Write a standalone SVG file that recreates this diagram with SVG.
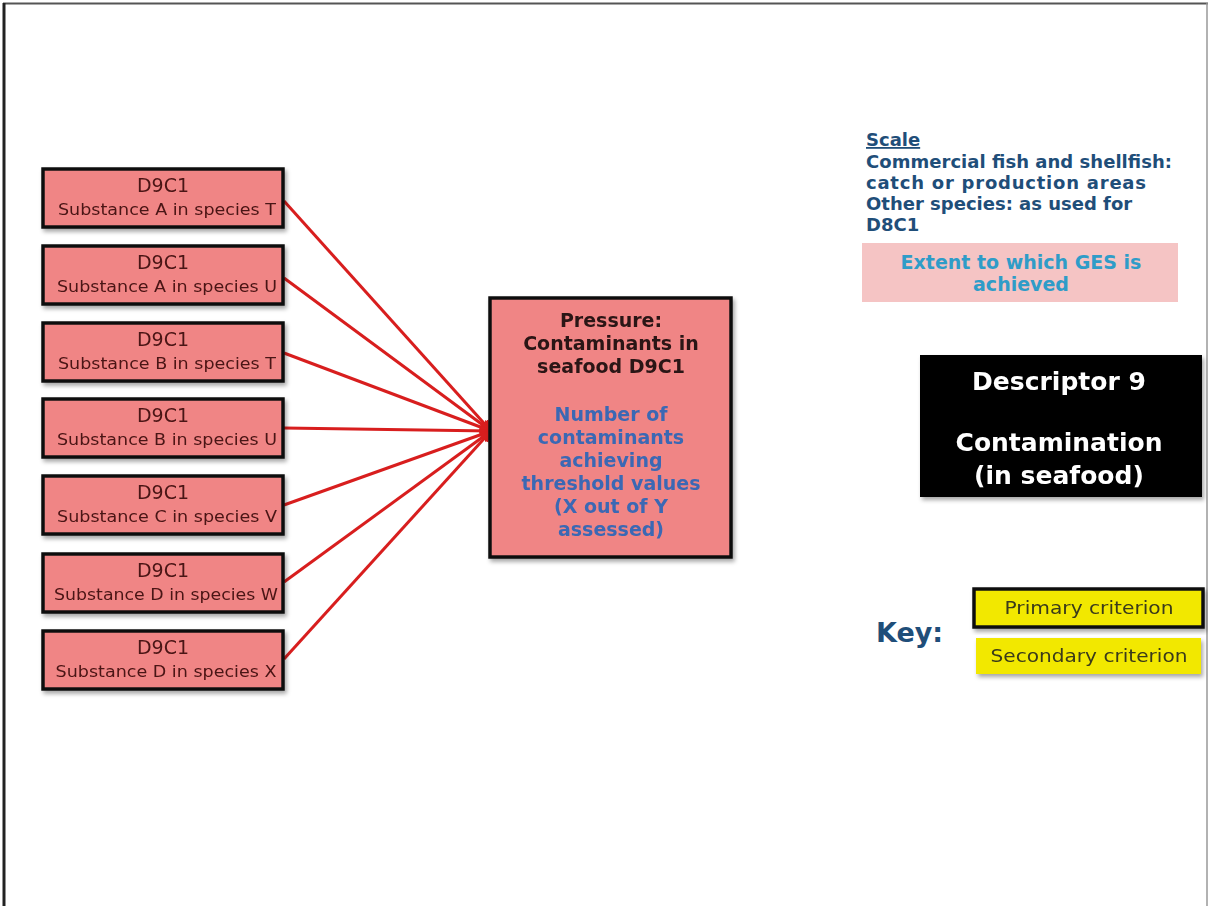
<svg xmlns="http://www.w3.org/2000/svg" width="1208" height="906" viewBox="0 0 1208 906">
  <style>
    .crit { fill: #f08585; stroke: #111; stroke-width: 3.5; }
    .t-head { font-family: "DejaVu Sans", Verdana, sans-serif; font-size: 19px; fill: #4a1414; text-anchor: middle; }
    .t-sub { font-family: "DejaVu Sans", Verdana, sans-serif; font-size: 15px; fill: #4a1414; text-anchor: middle; }
    .conn { stroke: #d81e1e; stroke-width: 3; fill: none; marker-end: url(#arrow); }
    .bold { font-family: "DejaVu Sans", Verdana, sans-serif; font-weight: bold; }
    .scale { font-size: 18px; fill: #1f4e79; }
    .keybox { fill: #f2e800; }
    .t-key { font-family: "DejaVu Sans", Verdana, sans-serif; font-size: 18px; fill: #3a3a1a; text-anchor: middle; }
  </style>
  <defs>
    <marker id="arrow" viewBox="0 0 10 10" refX="9" refY="5" markerWidth="4" markerHeight="4" orient="auto" markerUnits="strokeWidth">
      <path d="M0,0 L10,5 L0,10 z" fill="#d81e1e"/>
    </marker>
    <filter id="shadow" x="-10%" y="-10%" width="125%" height="130%">
      <feDropShadow dx="2" dy="3" stdDeviation="2" flood-color="#000" flood-opacity="0.35"/>
    </filter>
  </defs>

  <!-- page frame -->
  <rect x="0" y="0" width="1208" height="906" fill="#fff"/>
  <line x1="3" y1="3.5" x2="1208" y2="3.5" stroke="#555" stroke-width="2"/>
  <line x1="4" y1="3" x2="4" y2="906" stroke="#222" stroke-width="3"/>
  <line x1="1207" y1="3" x2="1207" y2="906" stroke="#999" stroke-width="1.5"/>

  <!-- connectors -->
  <g id="connectors">
    <line class="conn" x1="284" y1="201" x2="491" y2="431"/>
    <line class="conn" x1="284" y1="278" x2="491" y2="431"/>
    <line class="conn" x1="284" y1="353" x2="491" y2="431"/>
    <line class="conn" x1="284" y1="428" x2="491" y2="431"/>
    <line class="conn" x1="284" y1="505" x2="491" y2="431"/>
    <line class="conn" x1="284" y1="582" x2="491" y2="431"/>
    <line class="conn" x1="284" y1="659" x2="491" y2="431"/>
  </g>

  <!-- criterion nodes -->
  <g id="n1" filter="url(#shadow)">
    <rect class="crit" x="43" y="169" width="240" height="58"/>
    <text class="t-head" x="163" y="192">D9C1</text>
    <text class="t-sub" x="167" y="215" textLength="218" lengthAdjust="spacingAndGlyphs">Substance A in species T</text>
  </g>
  <g id="n2" filter="url(#shadow)">
    <rect class="crit" x="43" y="246" width="240" height="58"/>
    <text class="t-head" x="163" y="269">D9C1</text>
    <text class="t-sub" x="167" y="292" textLength="220" lengthAdjust="spacingAndGlyphs">Substance A in species U</text>
  </g>
  <g id="n3" filter="url(#shadow)">
    <rect class="crit" x="43" y="323" width="240" height="58"/>
    <text class="t-head" x="163" y="346">D9C1</text>
    <text class="t-sub" x="167" y="369" textLength="218" lengthAdjust="spacingAndGlyphs">Substance B in species T</text>
  </g>
  <g id="n4" filter="url(#shadow)">
    <rect class="crit" x="43" y="399" width="240" height="58"/>
    <text class="t-head" x="163" y="422">D9C1</text>
    <text class="t-sub" x="167" y="445" textLength="220" lengthAdjust="spacingAndGlyphs">Substance B in species U</text>
  </g>
  <g id="n5" filter="url(#shadow)">
    <rect class="crit" x="43" y="476" width="240" height="58"/>
    <text class="t-head" x="163" y="499">D9C1</text>
    <text class="t-sub" x="167" y="522" textLength="220" lengthAdjust="spacingAndGlyphs">Substance C in species V</text>
  </g>
  <g id="n6" filter="url(#shadow)">
    <rect class="crit" x="43" y="554" width="240" height="58"/>
    <text class="t-head" x="163" y="577">D9C1</text>
    <text class="t-sub" x="166" y="600" textLength="224" lengthAdjust="spacingAndGlyphs">Substance D in species W</text>
  </g>
  <g id="n7" filter="url(#shadow)">
    <rect class="crit" x="43" y="631" width="240" height="58"/>
    <text class="t-head" x="163" y="654">D9C1</text>
    <text class="t-sub" x="166" y="677" textLength="221" lengthAdjust="spacingAndGlyphs">Substance D in species X</text>
  </g>

  <!-- pressure node -->
  <g id="pressure" filter="url(#shadow)">
    <rect class="crit" x="490" y="298" width="241" height="259"/>
    <g class="bold" font-size="19" text-anchor="middle">
      <text x="611" y="327" fill="#2a1414">Pressure:</text>
      <text x="611" y="350" fill="#2a1414">Contaminants in</text>
      <text x="611" y="373" fill="#2a1414">seafood D9C1</text>
      <text x="611" y="421" fill="#3a68b4">Number of</text>
      <text x="611" y="444" fill="#3a68b4">contaminants</text>
      <text x="611" y="467" fill="#3a68b4">achieving</text>
      <text x="611" y="490" fill="#3a68b4">threshold values</text>
      <text x="611" y="513" fill="#3a68b4">(X out of Y</text>
      <text x="611" y="536" fill="#3a68b4">assessed)</text>
    </g>
  </g>

  <!-- scale note -->
  <g id="scale" class="bold scale">
    <text x="866" y="146" text-decoration="underline">Scale</text>
    <text x="866" y="168" textLength="306" lengthAdjust="spacing">Commercial fish and shellfish:</text>
    <text x="866" y="189" textLength="280" lengthAdjust="spacing">catch or production  areas</text>
    <text x="866" y="210">Other species: as used for</text>
    <text x="866" y="231">D8C1</text>
  </g>

  <!-- GES extent -->
  <g id="ges">
    <rect x="862" y="243" width="316" height="59" fill="#f5c4c4"/>
    <g class="bold" font-size="19" fill="#2f9cc8" text-anchor="middle">
      <text x="1021" y="269">Extent to which GES is</text>
      <text x="1021" y="291">achieved</text>
    </g>
  </g>

  <!-- descriptor title -->
  <g id="descriptor" filter="url(#shadow)">
    <rect x="920" y="355" width="282" height="142" fill="#000"/>
    <g class="bold" font-size="25" fill="#fff" text-anchor="middle">
      <text x="1059" y="390">Descriptor  9</text>
      <text x="1059" y="451">Contamination</text>
      <text x="1059" y="484">(in seafood)</text>
    </g>
  </g>

  <!-- key -->
  <g id="key">
    <text class="bold" x="876" y="642" font-size="27" fill="#1f4e79">Key:</text>
    <g id="key-primary" filter="url(#shadow)">
      <rect class="keybox" x="974" y="589" width="229" height="38" stroke="#111" stroke-width="3.5"/>
      <text class="t-key" x="1089" y="614" textLength="169" lengthAdjust="spacingAndGlyphs">Primary criterion</text>
    </g>
    <g id="key-secondary" filter="url(#shadow)">
      <rect class="keybox" x="976" y="638" width="225" height="36"/>
      <text class="t-key" x="1089" y="662" textLength="197" lengthAdjust="spacingAndGlyphs">Secondary criterion</text>
    </g>
  </g>
</svg>
